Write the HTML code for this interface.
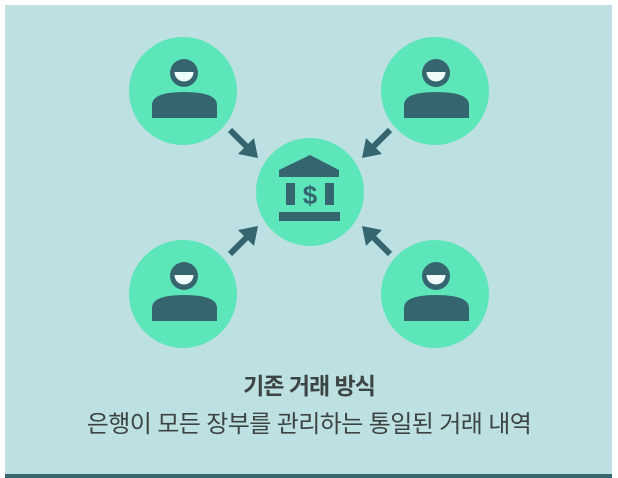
<!DOCTYPE html>
<html><head><meta charset="utf-8"><style>
html,body{margin:0;padding:0;background:#fff;}
body{width:618px;height:478px;position:relative;overflow:hidden;}
.bg{position:absolute;left:5px;top:5px;width:607px;height:469px;background:#bde0e2;}
.bar{position:absolute;left:5px;top:474px;width:607px;height:4px;background:#36666f;}
.t{position:absolute;left:0;width:618px;text-align:center;font-family:"Liberation Sans","Noto Sans CJK KR",sans-serif;color:#3d4444;letter-spacing:-1px;}
</style></head><body>
<div class="bg"></div><div class="bar"></div>
<svg width="618" height="478" style="position:absolute;left:0;top:0">
<defs>
<g id="p">
<circle cx="0" cy="0" r="54" fill="#5ce6b9"/>
<circle cx="1" cy="-18" r="14" fill="#35666f"/>
<path d="M-8.5,-19 H10.5 A9.5,9.5 0 0 1 -8.5,-19 Z" fill="#eefcfa"/>
<path d="M-31,27 V14 Q-31,1 1,1 Q34,1 34,14 V27 Z" fill="#35666f"/>
</g>
<g id="a"><line x1="0" y1="0" x2="17" y2="17" stroke="#35666f" stroke-width="6"/><polygon points="28,28 8,24 24,8" fill="#35666f"/></g>
</defs>
<use href="#p" x="183" y="91"/>
<use href="#p" x="435" y="91"/>
<use href="#p" x="183" y="294"/>
<use href="#p" x="435" y="294"/>
<circle cx="310" cy="192" r="54" fill="#5ce6b9"/>
<polygon points="310,155 339,170 339,177 279,177 279,170" fill="#35666f"/>
<rect x="286" y="183" width="9" height="22" fill="#35666f"/>
<rect x="325" y="183" width="9" height="22" fill="#35666f"/>
<text x="310" y="204" text-anchor="middle" font-family="Liberation Sans" font-weight="bold" font-size="26" fill="#35666f">$</text>
<rect x="279" y="212" width="61" height="9" fill="#35666f"/>
<use href="#a" x="230" y="130"/>
<use href="#a" transform="translate(390,130) scale(-1,1)"/>
<use href="#a" transform="translate(230,254) scale(1,-1)"/>
<use href="#a" transform="translate(390,254) scale(-1,-1)"/>
</svg>
<div class="t" style="top:367px;font-size:23px;font-weight:bold;">기존 거래 방식</div>
<div class="t" style="top:404px;font-size:24px;letter-spacing:-0.6px;">은행이 모든 장부를 관리하는 통일된 거래 내역</div>
</body></html>
